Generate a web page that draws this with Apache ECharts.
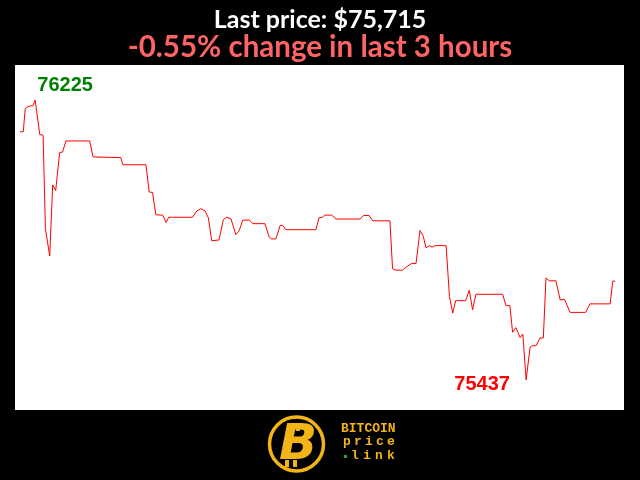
<!DOCTYPE html>
<html>
<head>
<meta charset="utf-8">
<script src="https://cdn.jsdelivr.net/npm/echarts@6/dist/echarts.min.js"></script>
<style>html,body{margin:0;padding:0;background:#000;}#c{width:640px;height:480px;}</style>
</head>
<body>
<div id="c"></div>
<script>
// minutes since start of the 3-hour window
const minutes = [0,1,1.6,2.3,3.1,3.9,4.6,6.0,7.0,7.7,9.0,9.9,10.8,12.0,12.9,13.9,21.1,22.1,30.5,31.1,38.1,39.1,40.1,41.1,43.2,44.2,45.0,52.2,53.5,54.7,56.0,57.0,58.0,60.2,61.5,62.5,63.8,65.3,66.3,67.4,69.4,70.4,74.1,75.4,76.1,77.4,78.7,79.5,80.4,89.5,90.5,91.5,92.2,94.3,95.6,102.9,103.9,105.6,106.7,111.9,112.7,113.7,115.7,117.0,118.5,119.8,121.0,122.0,122.8,123.8,124.7,125.5,128.9,129.9,130.9,131.8,134.8,135.9,136.9,137.9,146.0,147.0,148.2,149.0,150.0,151.3,152.1,153.1,154.3,155.0,156.1,157.3,158.3,159.1,160.1,162.1,163.4,164.7,165.2,166.4,171.1,172.4,178.5,179.3,180];
// BTC price (USD)
const prices = [76136,76136,76201,76206,76209,76209,76225,76128,76126,75863,75786,75986,75970,76077,76079,76110,76110,76065,76063,76043,76043,75966,75965,75902,75901,75880,75895,75895,75913,75919,75913,75893,75829,75831,75888,75895,75891,75846,75857,75887,75887,75877,75877,75839,75834,75834,75872,75872,75860,75860,75894,75895,75901,75901,75890,75890,75900,75900,75885,75885,75750,75746,75746,75756,75765,75765,75858,75841,75809,75815,75811,75815,75815,75672,75625,75660,75660,75689,75634,75678,75678,75646,75646,75571,75584,75556,75566,75437,75529,75533,75533,75555,75555,75724,75716,75716,75662,75664,75662,75627,75627,75651,75651,75715,75715];
const titleText = 'Last price: $75,715';
const subtitleText = '-0.55% change in last 3 hours';
const logoLines = ['BITCOIN', 'price', 'link'];

const gold = '#f2b417';
const chart = echarts.init(document.getElementById('c'), null, {renderer: 'canvas'});

const graphic = [
  {type: 'circle', shape: {cx: 296.5, cy: 444, r: 27}, style: {fill: 'none', stroke: gold, lineWidth: 3.5}},
  {type: 'rect', shape: {x: 288, y: 424, width: 4, height: 7}, style: {fill: gold}},
  {type: 'rect', shape: {x: 296, y: 424, width: 4, height: 7}, style: {fill: gold}},
  {type: 'rect', shape: {x: 285, y: 460, width: 4, height: 7}, style: {fill: gold}},
  {type: 'rect', shape: {x: 293, y: 460, width: 4, height: 7}, style: {fill: gold}},
  {type: 'text', x: 298, y: 446, style: {text: 'B', font: 'italic bold 50px "DejaVu Sans"', fill: gold, align: 'center', verticalAlign: 'middle'}},
  {type: 'text', x: 341, y: 429, style: {text: logoLines[0], font: 'bold 13px "Liberation Mono"', fill: gold, align: 'left', verticalAlign: 'middle'}},
  {type: 'rect', shape: {x: 344, y: 455, width: 3, height: 3}, style: {fill: '#22aa22'}}
];
logoLines[1].split('').forEach((ch, i) => graphic.push({type: 'text', x: 343 + i * 11, y: 442, style: {text: ch, font: 'bold 13px "Liberation Mono"', fill: gold, align: 'left', verticalAlign: 'middle'}}));
logoLines[2].split('').forEach((ch, i) => graphic.push({type: 'text', x: 351 + i * 12, y: 456, style: {text: ch, font: 'bold 13px "Liberation Mono"', fill: gold, align: 'left', verticalAlign: 'middle'}}));

chart.setOption({
  backgroundColor: '#000',
  animation: false,
  title: [
    {text: titleText, left: 'center', top: 2, textStyle: {color: '#fff', fontFamily: 'Lato', fontWeight: 'bold', fontSize: 25}},
    {text: subtitleText, left: 'center', top: 27, textStyle: {color: '#ff6464', fontFamily: 'Lato', fontWeight: 'bold', fontSize: 29.5}}
  ],
  grid: {left: 15, right: 16, top: 65, bottom: 70, show: true, backgroundColor: '#fff', borderWidth: 0},
  xAxis: {type: 'value', min: -1.5, max: 182.7, show: false},
  yAxis: {type: 'value', min: 75352, max: 76324, show: false},
  series: [{
    type: 'line',
    data: minutes.map((m, i) => [m, prices[i]]),
    showSymbol: false,
    lineStyle: {color: '#ff0000', width: 1},
    markPoint: {
      symbolSize: 0,
      data: [
        {type: 'max', label: {show: true, position: 'inside', offset: [30, -15], formatter: '{c}', color: '#008000', fontWeight: 'bold', fontSize: 20, fontFamily: 'Liberation Sans'}},
        {type: 'min', label: {show: true, position: 'inside', offset: [-44, 5], formatter: '{c}', color: '#ff0000', fontWeight: 'bold', fontSize: 20, fontFamily: 'Liberation Sans'}}
      ]
    }
  }],
  graphic: graphic
});
</script>
</body>
</html>
